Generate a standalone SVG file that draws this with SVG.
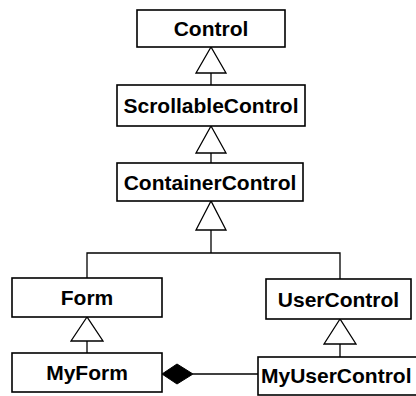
<svg xmlns="http://www.w3.org/2000/svg" width="416" height="396" viewBox="0 0 416 396">
<style>
.box{fill:#fff;stroke:#000;stroke-width:1.6}
.lbl{font-family:"Liberation Sans",Arial,sans-serif;font-weight:bold;font-size:21px;fill:#000;text-anchor:middle}
.ln{fill:none;stroke:#000;stroke-width:1.3}
.tri{fill:#fff;stroke:#000;stroke-width:1.3}
.dia{fill:#000;stroke:#000;stroke-width:1}
</style>
<rect width="416" height="396" fill="#fff"/>
<g id="connectors">
<line class="ln" x1="211" y1="73" x2="211" y2="85"/>
<polygon class="tri" points="211,47 196,73 226,73"/>
<line class="ln" x1="211" y1="153" x2="211" y2="163"/>
<polygon class="tri" points="211,126 196,153 226,153"/>
<polyline class="ln" points="211,230 211,253"/>
<polyline class="ln" points="87,278 87,253 340,253 340,279"/>
<polygon class="tri" points="211,201 196,230 226,230"/>
<line class="ln" x1="87" y1="341" x2="87" y2="353"/>
<polygon class="tri" points="87,317 71,341 103,341"/>
<line class="ln" x1="340" y1="344" x2="340" y2="357"/>
<polygon class="tri" points="340,319 324,344 356,344"/>
<line class="ln" x1="193" y1="374" x2="258" y2="374"/>
<polygon class="dia" points="162,374 177,364 193,374 177,384"/>
</g>
<g id="Control">
<rect class="box" x="137" y="10" width="148" height="37"/>
<text class="lbl" x="211" y="36">Control</text>
</g>
<g id="ScrollableControl">
<rect class="box" x="117" y="85" width="188" height="41"/>
<text class="lbl" x="211" y="113">ScrollableControl</text>
</g>
<g id="ContainerControl">
<rect class="box" x="117" y="163" width="186" height="38"/>
<text class="lbl" x="210" y="189.5">ContainerControl</text>
</g>
<g id="Form">
<rect class="box" x="12" y="278" width="150" height="39"/>
<text class="lbl" x="87" y="305">Form</text>
</g>
<g id="UserControl">
<rect class="box" x="266" y="279" width="145" height="40"/>
<text class="lbl" x="338.5" y="306.5">UserControl</text>
</g>
<g id="MyForm">
<rect class="box" x="12" y="353" width="150" height="39"/>
<text class="lbl" x="87" y="380">MyForm</text>
</g>
<g id="MyUserControl">
<rect class="box" x="258" y="357" width="175" height="38"/>
<text class="lbl" x="261" y="383" style="text-anchor:start">MyUserControl</text>
</g>
</svg>
